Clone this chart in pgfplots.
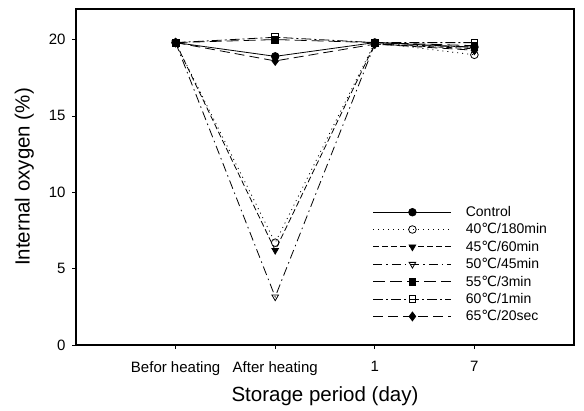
\documentclass[border=0pt]{standalone}
\usepackage{pgfplots}
\pgfplotsset{compat=1.18}
\usepackage{fontspec}
\setmainfont{Liberation Sans}
\newfontfamily\dejavu{DejaVu Sans}
\newcommand{\degc}{{\dejavu ℃}}
\begin{document}
\begin{tikzpicture}
\begin{axis}[
  scale only axis,
  width=498pt, height=336pt,
  xmin=-1, xmax=4, ymin=0, ymax=22,
  xtick={0,1,2,3},
  xticklabels={Befor heating, After heating, 1, 7},
  ytick={0,5,10,15,20},
  tick align=outside,
  xtick pos=bottom, ytick pos=left,
  major tick length=4pt,
  axis line style={line width=1.8pt},
  tick style={black, line width=0.7pt},
  /pgf/number format/assume math mode=true,
  tick label style={font=\fontsize{15}{17}\selectfont},
  xticklabel style={yshift=-9pt},
  yticklabel style={xshift=-3pt},
  xlabel={Storage period (day)},
  ylabel={Internal oxygen (\%)},
  label style={font=\fontsize{20.5}{23}\selectfont},
  xlabel style={yshift=-4pt},
  ylabel style={yshift=8pt},
  legend style={draw=none, fill=none, at={(0.59,0.425)}, anchor=north west,
    font=\fontsize{14}{16}\selectfont, row sep=1.5pt,
    /tikz/every odd column/.append style={column sep=12pt}},
  legend cell align=left,
  legend image code/.code={\draw[mark repeat=2,mark phase=2,#1] plot coordinates {(0pt,0pt) (39pt,0pt) (78pt,0pt)};},
  every axis plot/.append style={black, line width=0.8pt, mark size=3.8pt},
]
\addplot[solid, mark=*, mark options={solid}] coordinates {(0,19.8) (1,18.9) (2,19.8) (3,19.5)};
\addlegendentry{Control}
\addplot[dash pattern=on 1pt off 4pt, mark=o, mark options={solid, fill=white}] coordinates {(0,19.8) (1,6.7) (2,19.8) (3,19.0)};
\addlegendentry{40\degc/180min}
\addplot[dash pattern=on 6pt off 3pt, mark=triangle*, mark options={solid, rotate=180}] coordinates {(0,19.8) (1,6.2) (2,19.7) (3,19.4)};
\addlegendentry{45\degc/60min}
\addplot[dash pattern=on 9pt off 4pt on 1.5pt off 4pt, mark=triangle, mark options={solid, rotate=180, fill=white}] coordinates {(0,19.8) (1,3.15) (2,19.7) (3,19.5)};
\addlegendentry{50\degc/45min}
\addplot[dash pattern=on 12pt off 5pt, mark=square*, mark options={solid}, mark size=3.4pt] coordinates {(0,19.8) (1,20.0) (2,19.8) (3,19.6)};
\addlegendentry{55\degc/3min}
\addplot[dash pattern=on 10pt off 3pt on 2pt off 3pt, mark=square, mark options={solid, fill=white}, mark size=3.4pt] coordinates {(0,19.8) (1,20.15) (2,19.8) (3,19.8)};
\addlegendentry{60\degc/1min}
\addplot[dash pattern=on 10pt off 5pt, mark=diamond*, mark options={solid}, mark size=4.4pt] coordinates {(0,19.8) (1,18.6) (2,19.7) (3,19.3)};
\addlegendentry{65\degc/20sec}
\end{axis}
\pgfresetboundingbox
\path (current axis.south west) ++(-76pt,-65pt) coordinate (bl);
\path (current axis.north east) ++(10pt,9pt) coordinate (tr);
\path[use as bounding box] (bl) rectangle (tr);
\end{tikzpicture}
\end{document}
